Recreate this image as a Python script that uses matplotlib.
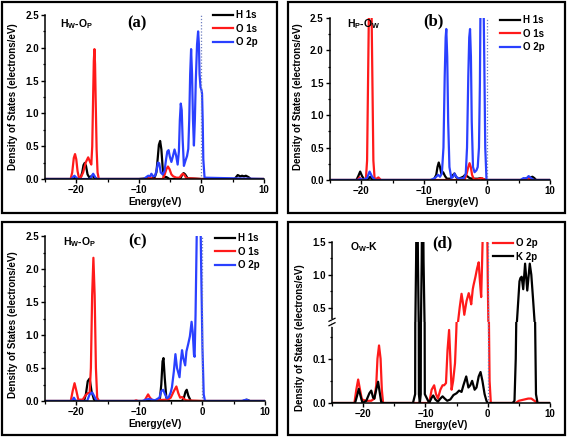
import matplotlib
matplotlib.use("Agg")
import matplotlib.pyplot as plt
from matplotlib.patches import Rectangle
from matplotlib.ticker import MultipleLocator, FormatStrFormatter
from matplotlib.lines import Line2D

plt.rcParams['font.family'] = ['Liberation Sans', 'DejaVu Sans']
plt.rcParams['font.weight'] = 'bold'
plt.rcParams['mathtext.fontset'] = 'custom'
plt.rcParams['mathtext.rm'] = 'Liberation Sans:bold'
plt.rcParams['mathtext.it'] = 'Liberation Sans:bold'
plt.rcParams['mathtext.bf'] = 'Liberation Sans:bold'

# ---------------- data ----------------
# Panel (a)  H_W-O_P
a_h1s_E = [-25, -20.8, -20.3, -19.8, -19.3, -19.05, -18.85, -18.65, -18.45, -18.2, -17.9, -17.5, -17.1, -16.6,
           -10, -7.5, -7.2, -7.0, -6.8, -6.6, -6.4, -6.2, -6.0, -5.6, -5.1, -3.4, -3.1, -2.85, -2.6, -2.2, 0,
           5.3, 5.8, 6.2, 6.5, 6.8, 7.1, 7.5, 7.9, 10]
a_h1s_V = [0, 0, 0.02, 0, 0.02, 0.1, 0.21, 0.245, 0.2, 0.07, 0.02, 0.05, 0.02, 0,
           0, 0.02, 0.1, 0.3, 0.52, 0.58, 0.45, 0.18, 0.03, 0.03, 0, 0, 0.06, 0.09, 0.07, 0.01, 0,
           0, 0.06, 0.04, 0.05, 0.04, 0.05, 0.03, 0, 0]

a_o1s_E = [-25, -20.9, -20.65, -20.4, -20.2, -20.0, -19.8, -19.6, -19.3, -18.9, -18.5, -18.1, -17.8, -17.6,
           -17.45, -17.3, -17.2, -17.1, -17.0, -16.9, -16.75, -16.6, -16.4, -10, -8.6, -8.2, -7.8, -6.2,
           -5.9, -5.6, -5.35, -5.1, -4.8, -4.5, -4.0, -3.5, -3.2, -2.95, -2.7, -2.4, -1.8, 0, 10]
a_o1s_V = [0, 0, 0.1, 0.32, 0.38, 0.3, 0.12, 0.03, 0.02, 0.1, 0.25, 0.33, 0.26, 0.22,
           0.5, 1.3, 1.8, 1.98, 1.75, 1.2, 0.45, 0.1, 0, 0, 0, 0.03, 0, 0,
           0.06, 0.15, 0.19, 0.15, 0.07, 0.04, 0.02, 0.02, 0.06, 0.08, 0.06, 0.01, 0.01, 0, 0]

a_o2p_E = [-25, -20.8, -20.3, -19.8, -17.8, -17.3, -16.8, -9.2, -8.8, -8.5, -8.2, -8.0, -7.7, -7.4, -7.15,
           -6.95, -6.75, -6.5, -6.2, -5.9, -5.65, -5.45, -5.25, -5.05, -4.8, -4.55, -4.3, -4.05, -3.8,
           -3.6, -3.45, -3.3, -3.15, -3.0, -2.8, -2.55, -2.3, -2.1, -1.95, -1.8, -1.65, -1.5, -1.35,
           -1.2, -1.05, -0.9, -0.7, -0.53, -0.4, -0.3, -0.15, 0.0, 0.1, 0.2, 0.3, 0.5, 10]
a_o2p_V = [0, 0, 0.05, 0, 0, 0.08, 0, 0, 0.03, 0.05, 0.04, 0.08, 0.04, 0.05, 0.14,
           0.25, 0.24, 0.1, 0.07, 0.12, 0.3, 0.42, 0.44, 0.34, 0.26, 0.35, 0.45, 0.36, 0.22,
           0.42, 0.9, 1.15, 1.05, 0.6, 0.2, 0.28, 0.35, 0.46, 0.9, 1.6, 1.98, 1.6, 0.9,
           0.51, 0.9, 1.5, 2.05, 2.25, 2.05, 1.6, 1.4, 1.36, 1.3, 0.9, 0.3, 0.02, 0]

# Panel (b)  H_P-O_W
b_h1s_E = [-25, -20.8, -20.5, -20.2, -19.9, -19.5, -18.9, -18.6, -18.3, -17.5, -8.5, -8.1, -7.9, -7.7,
           -7.5, -7.3, -7.0, -6.7, -6.4, -5.8, -5.5, -5.2, -4.9, -4.5, -3.8, -3.5, -3.2, -2.8, -2.4,
           -1.5, -1.0, -0.5, 0, 5.5, 6.0, 6.5, 6.9, 7.2, 7.5, 7.8, 10]
b_h1s_V = [0, 0, 0.06, 0.13, 0.06, 0, 0.02, 0.05, 0.01, 0, 0, 0.08, 0.2, 0.27,
           0.2, 0.1, 0.12, 0.06, 0.02, 0.02, 0.07, 0.1, 0.04, 0.02, 0.05, 0.08, 0.06, 0.03, 0.02,
           0.02, 0.03, 0.01, 0, 0, 0.02, 0.03, 0.04, 0.05, 0.03, 0, 0]

b_o1s_E = [-25, -20.6, -20.3, -20.0, -19.3, -19.1, -18.95, -18.8, -18.6, -18.4, -18.25, -18.1, -17.9,
           -17.6, -17.3, -16.9, -10, -3.6, -3.3, -3.0, -2.8, -2.6, -2.4, -2.1, -1.5, -0.9, -0.5, 0,
           6.0, 6.5, 7.0, 10]
b_o1s_V = [0, 0, 0.04, 0, 0, 0.3, 1.5, 2.7, 2.9, 2.7, 1.5, 0.3, 0.02,
           0.02, 0.04, 0, 0, 0, 0.08, 0.2, 0.26, 0.2, 0.08, 0.01, 0.01, 0.03, 0.01, 0,
           0, 0.03, 0, 0]

b_o2p_E = [-25, -20.5, -20.2, -19.8, -19.1, -18.7, -18.3, -17.8, -9, -8.3, -7.8, -7.5, -7.2, -6.95,
           -6.75, -6.6, -6.5, -6.35, -6.2, -6.0, -5.7, -5.4, -5.2, -4.9, -4.5, -3.7, -3.4, -3.2, -3.0,
           -2.85, -2.72, -2.58, -2.45, -2.25, -2.0, -1.7, -1.5, -1.3, -1.15, -1.05, -0.9, -0.75, -0.6,
           -0.45, -0.3, -0.1, 5.3, 5.8, 6.2, 6.6, 7.0, 7.4, 10]
b_o2p_V = [0, 0, 0.02, 0, 0.03, 0.13, 0.05, 0, 0, 0.03, 0.08, 0.05, 0.1, 0.5,
           1.6, 2.2, 2.33, 1.9, 0.9, 0.2, 0.03, 0.05, 0.1, 0.05, 0.02, 0.03, 0.1, 0.5, 1.6,
           2.2, 2.33, 1.9, 0.9, 0.2, 0.12, 0.15, 0.2, 0.5, 1.5, 2.8, 3.2, 3.3, 3.0,
           1.8, 0.5, 0, 0, 0.03, 0.02, 0.06, 0.03, 0, 0]

# Panel (c)  H_W-O_P
c_h1s_E = [-25, -20.8, -20.4, -20.0, -18.8, -18.5, -18.2, -17.9, -17.6, -17.2, -16.8, -10, -7, -6.7,
           -6.5, -6.3, -6.15, -5.95, -5.7, -5.3, -3.2, -2.9, -2.65, -2.45, -2.2, -1.8, 0, 6.5, 7.1, 7.6, 10]
c_h1s_V = [0, 0, 0.02, 0, 0, 0.1, 0.3, 0.34, 0.15, 0.02, 0, 0, 0, 0.05,
           0.25, 0.6, 0.65, 0.35, 0.05, 0, 0, 0.05, 0.14, 0.17, 0.08, 0, 0, 0, 0.02, 0, 0]

c_o1s_E = [-25, -20.9, -20.6, -20.3, -20.0, -19.7, -19.0, -18.6, -18.2, -17.9, -17.7, -17.5, -17.3,
           -17.1, -16.9, -16.7, -16.4, -10.8, -10.5, -10.2, -9.2, -8.9, -8.6, -8.3, -7.9, -5.5, -5.0,
           -4.5, -4.1, -3.8, -3.5, -3.2, -2.9, -2.5, 0, 10]
c_o1s_V = [0, 0, 0.15, 0.27, 0.15, 0.02, 0.02, 0.08, 0.12, 0.12, 0.5, 1.6, 2.17,
           1.6, 0.5, 0.05, 0, 0, 0.01, 0, 0, 0.05, 0.1, 0.05, 0.01, 0.02, 0.05,
           0.15, 0.22, 0.12, 0.05, 0.06, 0.03, 0.01, 0, 0]

c_o2p_E = [-25, -20.7, -20.4, -20.1, -18.3, -17.9, -17.5, -17.2, -16.8, -9.5, -9.0, -8.5, -7.5, -6.8,
           -6.5, -6.2, -5.9, -5.6, -5.3, -5.0, -4.8, -4.5, -4.25, -4.0, -3.6, -3.4, -3.2, -3.0, -2.7,
           -2.5, -2.2, -1.95, -1.68, -1.5, -1.3, -1.2, -1.05, -0.85, -0.7, -0.3, -0.15, 0.05, 0.25,
           0.45, 6.3, 7.0, 7.6, 10]
c_o2p_V = [0, 0, 0.05, 0, 0, 0.1, 0.13, 0.08, 0, 0, 0.02, 0.03, 0.01, 0.05,
           0.15, 0.17, 0.1, 0.04, 0.06, 0.13, 0.21, 0.45, 0.71, 0.5, 0.36, 0.6, 0.77, 0.65, 0.54,
           0.75, 0.87, 0.98, 1.2, 1.05, 0.7, 0.67, 1.3, 2.6, 3.0, 3.0, 2.0, 0.8, 0.1,
           0, 0, 0.02, 0, 0]

# Panel (d)  O_W-K
d_o2p_E = [-25, -21.4, -21.1, -20.8, -20.5, -20.2, -19.5, -18.7, -18.2, -17.9, -17.7, -17.45, -17.2,
           -17.0, -16.8, -9.4, -9.0, -8.6, -8.3, -8.0, -7.6, -7.25, -7.0, -6.7, -6.45, -6.2, -6.0,
           -5.8, -5.55, -5.25, -5.05, -4.77, -4.5, -4.2, -3.95, -3.76, -3.4, -3.05, -2.85, -2.65,
           -2.4, -2.28, -1.97, -1.7, -1.45, -1.25, -1.05, -0.9, -0.75, -0.5, -0.1, 0.0, 0.1, 0.3,
           0.5, 4.5, 5.0, 6.5, 7.0, 7.5, 8.0, 10]
d_o2p_V = [0, 0, 0.03, 0.053, 0.03, 0.008, 0.005, 0.005, 0.01, 0.04, 0.1, 0.13, 0.1,
           0.03, 0, 0, 0.03, 0.04, 0.02, 0.01, 0.03, 0.04, 0.04, 0.045, 0.12, 0.165, 0.1,
           0.03, 0.05, 0.09, 0.16, 0.28, 0.5, 0.71, 0.55, 0.39, 0.6, 0.72, 0.65, 0.55,
           0.78, 0.84, 0.97, 1.1, 1.19, 0.9, 0.66, 1.2, 1.8, 2.0, 2.0, 1.0, 0.3, 0.05,
           0, 0, 0.005, 0.01, 0.01, 0.005, 0, 0]

d_k2p_E = [-25, -21.3, -21.0, -20.7, -20.4, -20.1, -19.5, -19.0, -18.7, -18.4, -18.2, -17.9, -17.6,
           -17.35, -17.1, -16.8, -12.0, -11.65, -11.5, -11.35, -11.2, -11.05, -10.9, -10.75, -10.6,
           -10.45, -10.3, -10.1, -9.4, -9.0, -8.75, -8.4, -8.0, -7.6, -7.25, -6.9, -6.5, -6.0, -5.5,
           -5.0, -4.6, -4.2, -3.9, -3.45, -3.1, -2.8, -2.5, -2.1, -1.8, -1.45, -1.15, -0.85, -0.5,
           -0.2, 0, 4.0, 4.3, 4.5, 4.7, 4.9, 5.1, 5.25, 5.45, 5.7, 6.0, 6.35, 6.75, 7.0, 7.3, 7.55,
           7.75, 8.0, 10]
d_k2p_V = [0, 0, 0.015, 0.032, 0.015, 0.0, 0.005, 0.022, 0.028, 0.012, 0.01, 0.03, 0.048,
           0.025, 0.002, 0, 0, 0.02, 1.2, 3.0, 1.2, 0.02, 0.0, 0.02, 1.2,
           3.0, 1.2, 0.02, 0, 0.012, 0.017, 0.008, 0.003, 0.01, 0.015, 0.01, 0.005, 0.008, 0.018,
           0.022, 0.028, 0.025, 0.04, 0.06, 0.035, 0.04, 0.05, 0.03, 0.035, 0.06, 0.07, 0.05, 0.02,
           0.005, 0, 0, 0.005, 0.1, 0.3, 0.6, 0.9, 0.95, 0.97, 0.78, 1.17, 0.76, 1.17, 1.0, 0.6, 0.25,
           0.02, 0, 0]

# ---------------- styling ----------------
W, H = 567, 437
fig = plt.figure(figsize=(W / 100, H / 100), dpi=100)
fig.patch.set_facecolor('white')

BLACK = '#000000'
RED = '#ff1a1a'
BLUE = '#2a40ff'
FERMI = '#6f7fbf'
FS = 7.0
LW = 1.6


def rect(l, t, r, b):
    return [l / W, 1 - b / H, (r - l) / W, (b - t) / H]


def style(ax):
    for s in ['top', 'right']:
        ax.spines[s].set_visible(False)
    ax.spines['left'].set_linewidth(1.1)
    ax.spines['bottom'].set_linewidth(1.1)
    ax.tick_params(which='major', direction='out', length=3, width=1.0, labelsize=FS, pad=1.5)
    ax.tick_params(which='minor', direction='out', length=1.8, width=0.9)
    ax.set_xlim(-25, 10)
    ax.xaxis.set_major_locator(MultipleLocator(10))
    ax.xaxis.set_minor_locator(MultipleLocator(5))


def bold_ticks(ax):
    for lab in ax.get_xticklabels() + ax.get_yticklabels():
        lab.set_fontweight('bold')


def frame(l, t, r, b):
    fig.patches.append(Rectangle((l / W, 1 - b / H), (r - l) / W, (b - t) / H,
                                 transform=fig.transFigure, fill=False,
                                 edgecolor='black', linewidth=1.6, zorder=0))


def ftext(x, y, s, **kw):
    fig.text(x / W, 1 - y / H, s, **kw)


def legend(ax, handles, labels, x, y):
    ax.legend(handles, labels, loc='upper left', bbox_to_anchor=(x / W, 1 - y / H),
              bbox_transform=fig.transFigure, frameon=False,
              handlelength=2.1, handletextpad=0.25, labelspacing=0.38,
              borderpad=0, borderaxespad=0, prop={'weight': 'bold', 'size': FS})


# Frames
frame(2, 2, 277, 213)
frame(288, 2, 565, 213)
frame(2, 222, 277, 435)
frame(288, 222, 565, 435)

panels = [
    dict(rect=(45, 15, 264, 179), data=[(a_h1s_E, a_h1s_V, BLACK, 'H 1s'), (a_o1s_E, a_o1s_V, RED, 'O 1s'),
                                         (a_o2p_E, a_o2p_V, BLUE, 'O 2p')],
         leg=(213, 10), tag='(a)', tagpos=(137, 23), lab=r'$H_W$-$O_P$', labpos=(60, 24),
         xl=(155, 202), yl=(13, 97)),
    dict(rect=(330, 18, 550, 180), data=[(b_h1s_E, b_h1s_V, BLACK, 'H 1s'), (b_o1s_E, b_o1s_V, RED, 'O 1s'),
                                          (b_o2p_E, b_o2p_V, BLUE, 'O 2p')],
         leg=(500, 15), tag='(b)', tagpos=(433, 21), lab=r'$H_P$-$O_W$', labpos=(347, 24),
         xl=(452, 202), yl=(298, 97)),
    dict(rect=(45, 236, 265, 401), data=[(c_h1s_E, c_h1s_V, BLACK, 'H 1s'), (c_o1s_E, c_o1s_V, RED, 'O 1s'),
                                          (c_o2p_E, c_o2p_V, BLUE, 'O 2p')],
         leg=(215, 233), tag='(c)', tagpos=(138, 241), lab=r'$H_W$-$O_P$', labpos=(63, 242),
         xl=(155, 424), yl=(13, 325)),
]

for p in panels:
    ax = fig.add_axes(rect(*p['rect']))
    style(ax)
    handles = []
    labels = []
    for E, V, c, name in p['data']:
        ln, = ax.plot(E, V, color=c, lw=LW, solid_joinstyle='round')
        handles.append(ln)
        labels.append(name)
    ax.axvline(0, color=FERMI, lw=0.9, ls=(0, (1, 1.5)))
    ax.set_ylim(0, 2.5)
    ax.yaxis.set_major_locator(MultipleLocator(0.5))
    ax.yaxis.set_minor_locator(MultipleLocator(0.25))
    ax.yaxis.set_major_formatter(FormatStrFormatter('%.1f'))
    bold_ticks(ax)
    legend(ax, handles, labels, *p['leg'])
    ftext(*p['tagpos'], p['tag'], family='Liberation Serif', fontweight='bold', fontsize=12,
          ha='center', va='center')
    ftext(*p['labpos'], p['lab'], fontsize=7.5, ha='left', va='center', fontweight='bold')
    ftext(*p['xl'], 'Energy(eV)', fontsize=FS + 0.3, ha='center', va='center', fontweight='bold')
    ftext(*p['yl'], 'Density of States (electrons/eV)', fontsize=FS, ha='center', va='center',
          rotation=90, fontweight='bold')

# Panel (d) with broken axis
L, T, R, B, BRK = 332, 242, 550, 403, 322
ax_up = fig.add_axes(rect(L, T, R, BRK))
ax_lo = fig.add_axes(rect(L, BRK, R, B))
for ax in (ax_up, ax_lo):
    style(ax)
    ax.plot(d_o2p_E, d_o2p_V, color=RED, lw=LW, solid_joinstyle='round')
    ax.plot(d_k2p_E, d_k2p_V, color=BLACK, lw=LW, solid_joinstyle='round')
    ax.axvline(0, color=FERMI, lw=0.9, ls=(0, (1, 1.5)))
ax_up.set_ylim(0.28, 1.5)
ax_up.yaxis.set_major_locator(MultipleLocator(0.5))
ax_up.yaxis.set_minor_locator(MultipleLocator(0.25))
ax_up.yaxis.set_major_formatter(FormatStrFormatter('%.1f'))
ax_up.spines['bottom'].set_visible(False)
ax_up.tick_params(axis='x', which='both', bottom=False, labelbottom=False)
ax_lo.set_ylim(0, 0.183)
ax_lo.yaxis.set_major_locator(MultipleLocator(0.1))
ax_lo.yaxis.set_minor_locator(MultipleLocator(0.05))
ax_lo.yaxis.set_major_formatter(FormatStrFormatter('%.1f'))
for ax in (ax_up, ax_lo):
    bold_ticks(ax)

# break marks on the left spine
fig.add_artist(Line2D([L / W, L / W], [1 - (BRK - 2.5) / H, 1 - (BRK + 2.5) / H],
                      color='white', lw=2.0, transform=fig.transFigure))
for dy in (-2.2, 2.2):
    fig.add_artist(Line2D([(L - 3) / W, (L + 3) / W],
                          [1 - (BRK + dy + 1.5) / H, 1 - (BRK + dy - 1.5) / H],
                          color='black', lw=0.9, transform=fig.transFigure))

hd = [Line2D([], [], color=RED, lw=LW), Line2D([], [], color=BLACK, lw=LW)]
legend(ax_up, hd, ['O 2p', 'K 2p'], 493, 238)
ftext(442, 243, '(d)', family='Liberation Serif', fontweight='bold', fontsize=12, ha='center', va='center')
ftext(350, 247, r'$O_W$-K', fontsize=7.5, ha='left', va='center', fontweight='bold')
ftext(441, 425, 'Energy(eV)', fontsize=FS + 0.3, ha='center', va='center', fontweight='bold')
ftext(300, 338, 'Density of States (electrons/eV)', fontsize=FS, ha='center', va='center',
      rotation=90, fontweight='bold')

fig.savefig('out.png', dpi=100, facecolor='white')
